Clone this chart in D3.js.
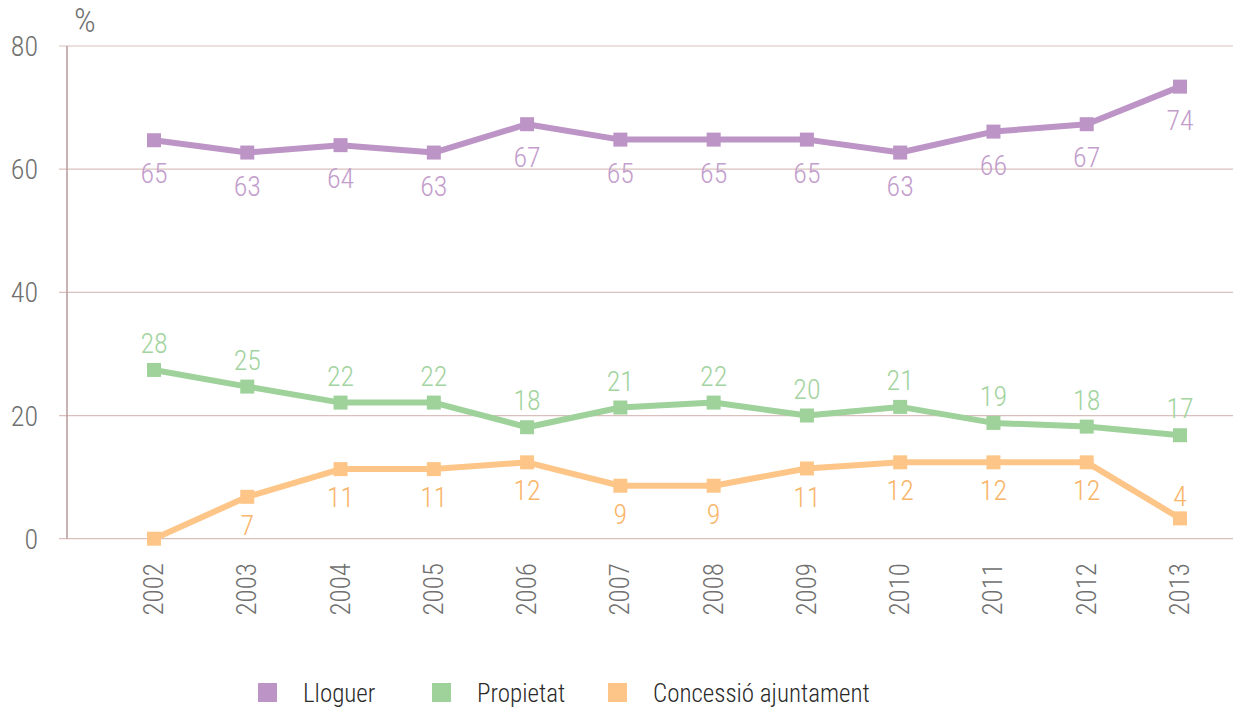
<!DOCTYPE html>
<html><head><meta charset="utf-8">
<script src="https://cdn.jsdelivr.net/npm/d3@7"></script>
<style>
html,body{margin:0;padding:0;background:#fff;}
text{font-family:"Roboto Condensed","Liberation Sans Narrow","Liberation Sans",sans-serif;font-weight:300;}
</style></head>
<body><svg id="c" width="1233" height="709"></svg>
<script>
const years = ["2002","2003","2004","2005","2006","2007","2008","2009","2010","2011","2012","2013"];
const lloguer = [64.7,62.7,63.9,62.7,67.3,64.8,64.8,64.8,62.7,66.1,67.3,73.4];
const lloguerLabels = ["65","63","64","63","67","65","65","65","63","66","67","74"];
const propietat = [27.4,24.7,22.1,22.1,18.1,21.3,22.1,20.0,21.4,18.8,18.2,16.8];
const propietatLabels = ["28","25","22","22","18","21","22","20","21","19","18","17"];
const concessio = [0,6.8,11.3,11.3,12.4,8.6,8.6,11.4,12.4,12.4,12.4,3.3];
const concessioLabels = ["","7","11","11","12","9","9","11","12","12","12","4"];
const yTicks = [0,20,40,60,80];
const seriesNames = ["Lloguer","Propietat","Concessió ajuntament"];

const svg = d3.select("#c");
const x = d3.scalePoint().domain(years).range([154,1180]);
const y = d3.scaleLinear().domain([0,80]).range([538.7,46]);

svg.append("g").selectAll("line").data(yTicks).join("line")
  .attr("x1",59).attr("x2",1233).attr("y1",d=>y(d)).attr("y2",d=>y(d))
  .attr("stroke","#d9c0bc").attr("stroke-width",1.2);
svg.append("line").attr("x1",67).attr("x2",67).attr("y1",y(80)).attr("y2",y(0))
  .attr("stroke","#b89a98").attr("stroke-width",1.5);
svg.append("g").selectAll("text").data(yTicks).join("text")
  .attr("x",38).attr("y",d=>y(d)).attr("dy","0.36em").attr("text-anchor","end")
  .attr("font-size",28).attr("fill","#707070").text(d=>d);
svg.append("text").attr("x",74).attr("y",32).attr("font-size",34).attr("fill","#707070").text("%");
svg.append("g").selectAll("text").data(years).join("text")
  .attr("transform",d=>`translate(${x(d)+9},563) rotate(-90)`)
  .attr("text-anchor","end").attr("font-size",27).attr("fill","#707070").text(d=>d);

const series = [
  {name:seriesNames[0], vals:lloguer, labels:lloguerLabels, color:"#bc94c6", lc:"#c39dcc", off:()=>33},
  {name:seriesNames[1], vals:propietat, labels:propietatLabels, color:"#9ed29a", lc:"#a3d49f", off:()=>-27},
  {name:seriesNames[2], vals:concessio, labels:concessioLabels, color:"#fdc688", lc:"#f9b56a", off:(i)=> i===11 ? -22 : 28}
];
const line = d3.line().x((d,i)=>x(years[i])).y(d=>y(d));
series.forEach(s=>{
  svg.append("path").datum(s.vals).attr("d",line).attr("fill","none")
    .attr("stroke",s.color).attr("stroke-width",6).attr("stroke-linejoin","round");
  svg.append("g").selectAll("rect").data(s.vals).join("rect")
    .attr("x",(d,i)=>x(years[i])-7).attr("y",d=>y(d)-7).attr("width",14).attr("height",14)
    .attr("fill",s.color);
  svg.append("g").selectAll("text").data(s.vals).join("text")
    .attr("x",(d,i)=>x(years[i])).attr("y",(d,i)=>y(d)+s.off(i)).attr("dy","0.36em")
    .attr("text-anchor","middle").attr("font-size",28).attr("fill",s.lc)
    .text((d,i)=>s.labels[i]);
});
const legX = [258,432,608];
const lg = svg.append("g").selectAll("g").data(series).join("g")
  .attr("transform",(d,i)=>`translate(${legX[i]},683)`);
lg.append("rect").attr("width",19).attr("height",19).attr("fill",d=>d.color);
lg.append("text").attr("x",45).attr("y",19).attr("font-size",25).attr("fill","#2a2a2a").text(d=>d.name);
</script></body></html>
